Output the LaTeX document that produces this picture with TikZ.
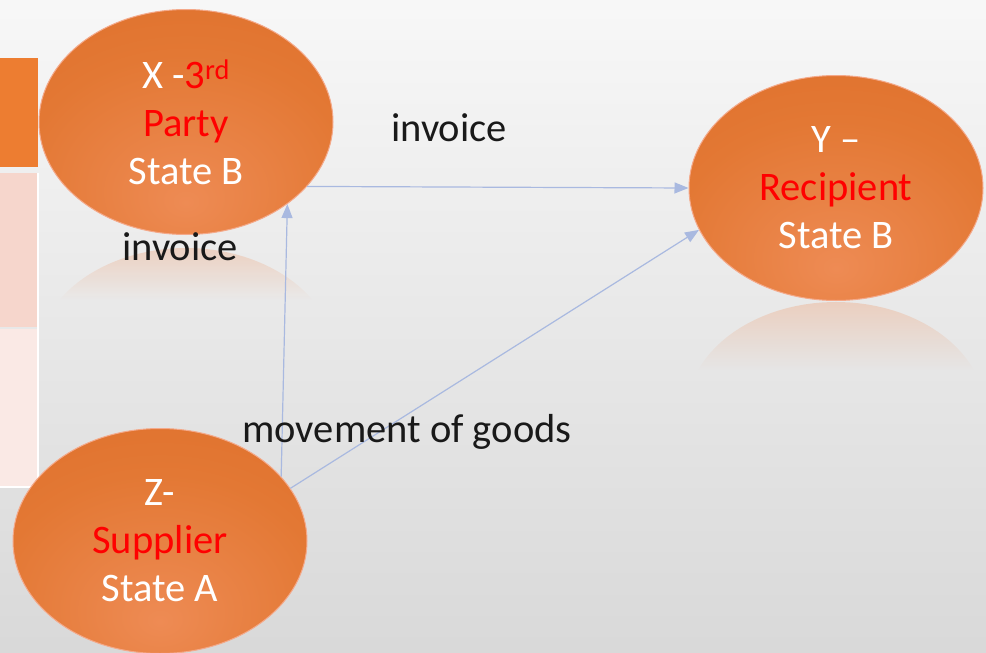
\documentclass[tikz,border=0pt]{standalone}
\usepackage{fontspec}
\setmainfont{Carlito}
\usetikzlibrary{shapes.geometric,arrows.meta,fadings}
\definecolor{od}{HTML}{DC6B27}
\definecolor{om}{HTML}{E37834}
\definecolor{ol}{HTML}{EE8B54}
\definecolor{edgec}{HTML}{F4A98A}
\definecolor{ered}{HTML}{FF0000}
\definecolor{arr}{HTML}{A9B9E0}
\definecolor{recta}{HTML}{ED7D31}
\definecolor{rectb}{HTML}{F6D6CC}
\definecolor{rectc}{HTML}{FAE9E5}
\pgfdeclareradialshading{ellsh}{\pgfpoint{0bp}{-18bp}}{color(0bp)=(ol);color(28bp)=(om);color(58bp)=(od);color(100bp)=(od)}
\tikzfading[name=reflfade, top color=transparent!20, bottom color=transparent!100]
\tikzset{
  party/.style={ellipse, draw=edgec, line width=1pt, shading=ellsh,
    minimum width=294pt, minimum height=225pt, inner sep=0pt,
    text=white, align=center, font=\fontsize{40.5}{48}\selectfont},
  lbl/.style={text=black!90, font=\fontsize{40.5}{48}\selectfont, inner sep=0pt},
  flow/.style={draw=arr, line width=1.2pt, -{Triangle[length=14pt,width=11pt]}},
  refl/.style={fill=ol, fill opacity=0.35, path fading=reflfade},
}
\begin{document}
\begin{tikzpicture}[x=1pt,y=-1pt]
\useasboundingbox (0,0) rectangle (986,653);
\shade[top color=white!97!black, bottom color=black!15] (0,0) rectangle (986,653);
% left background blocks
\fill[recta] (0,58) rectangle (38,167);
\fill[rectb] (0,173) rectangle (38,327);
\fill[rectc] (0,329) rectangle (38,487);
\draw[white, line width=1.5pt] (38,173) -- (38,487) -- (0,487);
% reflections
\fill[refl] plot[domain=32.4:147.6, samples=40] ({186+150*cos(\x)},{360-112*sin(\x)}) -- cycle;
\fill[refl] plot[domain=23.1:156.9, samples=40] ({836+150*cos(\x)},{414-112*sin(\x)}) -- cycle;
% parties
\node[party] (X) at (186,122) {X -{\color{ered}3\textsuperscript{rd}}\\{\color{ered}Party}\\State B};
\node[party] (Y) at (836,188) {Y --\\{\color{ered}Recipient}\\State B};
\node[party] (Z) at (160,541) {Z-\\{\color{ered}Supplier}\\State A};
% flows
\draw[flow] (X.-28) -- (Y.180);
\draw[flow] (Z.28) -- (X.-39);
\draw[flow] (Z.22) -- (Y.197);
% labels
\node[lbl] (l1) at (449,128) {invoice};
\node[lbl] (l2) at (180,247) {invoice};
\node[lbl] (l3) at (407,432) {movement of goods};
\end{tikzpicture}
\end{document}
